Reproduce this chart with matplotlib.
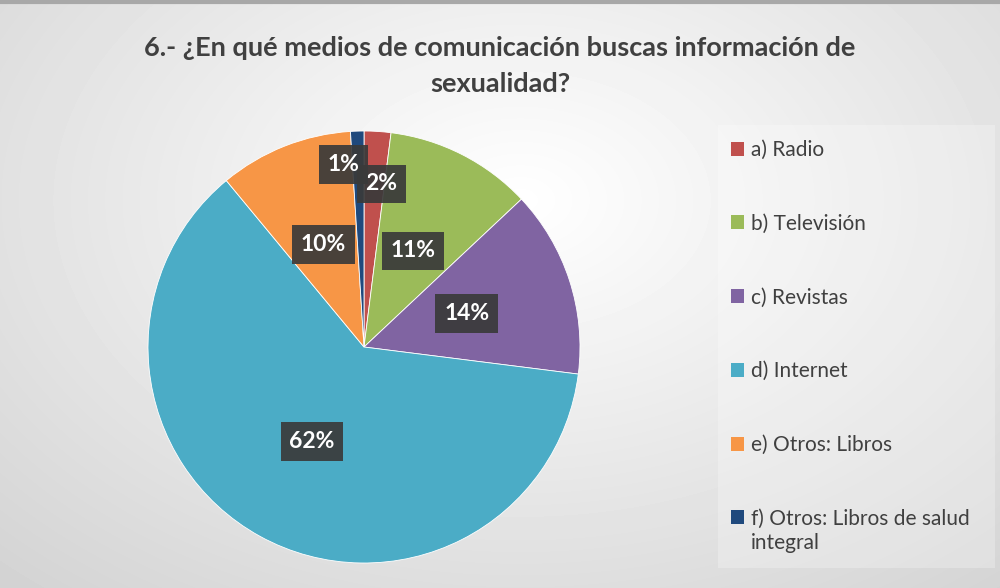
import numpy as np
import matplotlib.pyplot as plt
from matplotlib.patches import Patch

# data
categories = ['a) Radio', 'b) Televisión', 'c) Revistas', 'd) Internet',
              'e) Otros: Libros', 'f) Otros: Libros de salud']
last_label_cont = 'integral'
values = [2, 11, 14, 62, 10, 1]
colors = ['#C0504D', '#9BBB59', '#8064A2', '#4BACC6', '#F79646', '#1F497D']
title = '6.- ¿En qué medios de comunicación buscas información de\nsexualidad?'

# where excel put the labels (radius fraction, angle shift in degrees)
label_r = [0.76, 0.50, 0.50, 0.50, 0.51, 0.85]
label_shift = [-2.5, 0, 0, 0, 0, 4.5]

plt.rcParams['font.family'] = ['Lato', 'DejaVu Sans']

fig = plt.figure(figsize=(10, 5.88), dpi=100)

# background gradient
bg = fig.add_axes([0, 0, 1, 1], zorder=-10)
yy, xx = np.mgrid[0:588, 0:1000]
d = np.sqrt(((xx - 520) / 620.0) ** 2 + ((yy - 200) / 420.0) ** 2)
shade = 1.0 - 0.14 * np.clip(d, 0, 1.3)
bg.imshow(shade, cmap='gray', vmin=0, vmax=1, aspect='auto',
          extent=[0, 1, 0, 1], origin='upper')
bg.axhline(0.997, color='#A8A8A8', lw=3)
bg.add_patch(plt.Rectangle((0.718, 0.034), 0.277, 0.754, color='white',
                           alpha=0.25, lw=0))
bg.set_xlim(0, 1)
bg.set_ylim(0, 1)
bg.axis('off')

ax = fig.add_axes([0.148, 0.0425, 0.432, 0.7347])
wedges, _ = ax.pie(values, colors=colors, startangle=90, counterclock=False,
                   radius=1, wedgeprops=dict(linewidth=0.6, edgecolor='white'))
ax.set_xlim(-1, 1)
ax.set_ylim(-1, 1)
ax.set_aspect('auto')

for w, v, r, s in zip(wedges, values, label_r, label_shift):
    ang = np.deg2rad((w.theta1 + w.theta2) / 2 + s)
    ax.text(r * np.cos(ang), r * np.sin(ang), f'{v}%', ha='center',
            va='center', color='white', fontsize=16.5, fontweight='bold',
            bbox=dict(boxstyle='square,pad=0.38', fc='#3A3A3A', ec='none',
                      alpha=0.92))

fig.text(0.5, 0.888, title, ha='center', va='center', fontsize=19.5,
         fontweight='bold', color='#404040', linespacing=1.6)

handles = [Patch(facecolor=c, edgecolor='none') for c in colors]
leg = fig.legend(handles, categories, loc='upper left',
                 bbox_to_anchor=(0.712, 0.794), frameon=False, fontsize=15,
                 handlelength=0.65, handleheight=0.65, handletextpad=0.3,
                 labelspacing=2.58, labelcolor='#404040')

# second line of the last legend entry, under its text
fig.canvas.draw()
bb = leg.get_texts()[-1].get_window_extent().transformed(fig.transFigure.inverted())
fig.text(bb.x0, bb.y0 - 0.008, last_label_cont, ha='left', va='top',
         fontsize=15, color='#404040')

fig.savefig('out.png', dpi=100)
